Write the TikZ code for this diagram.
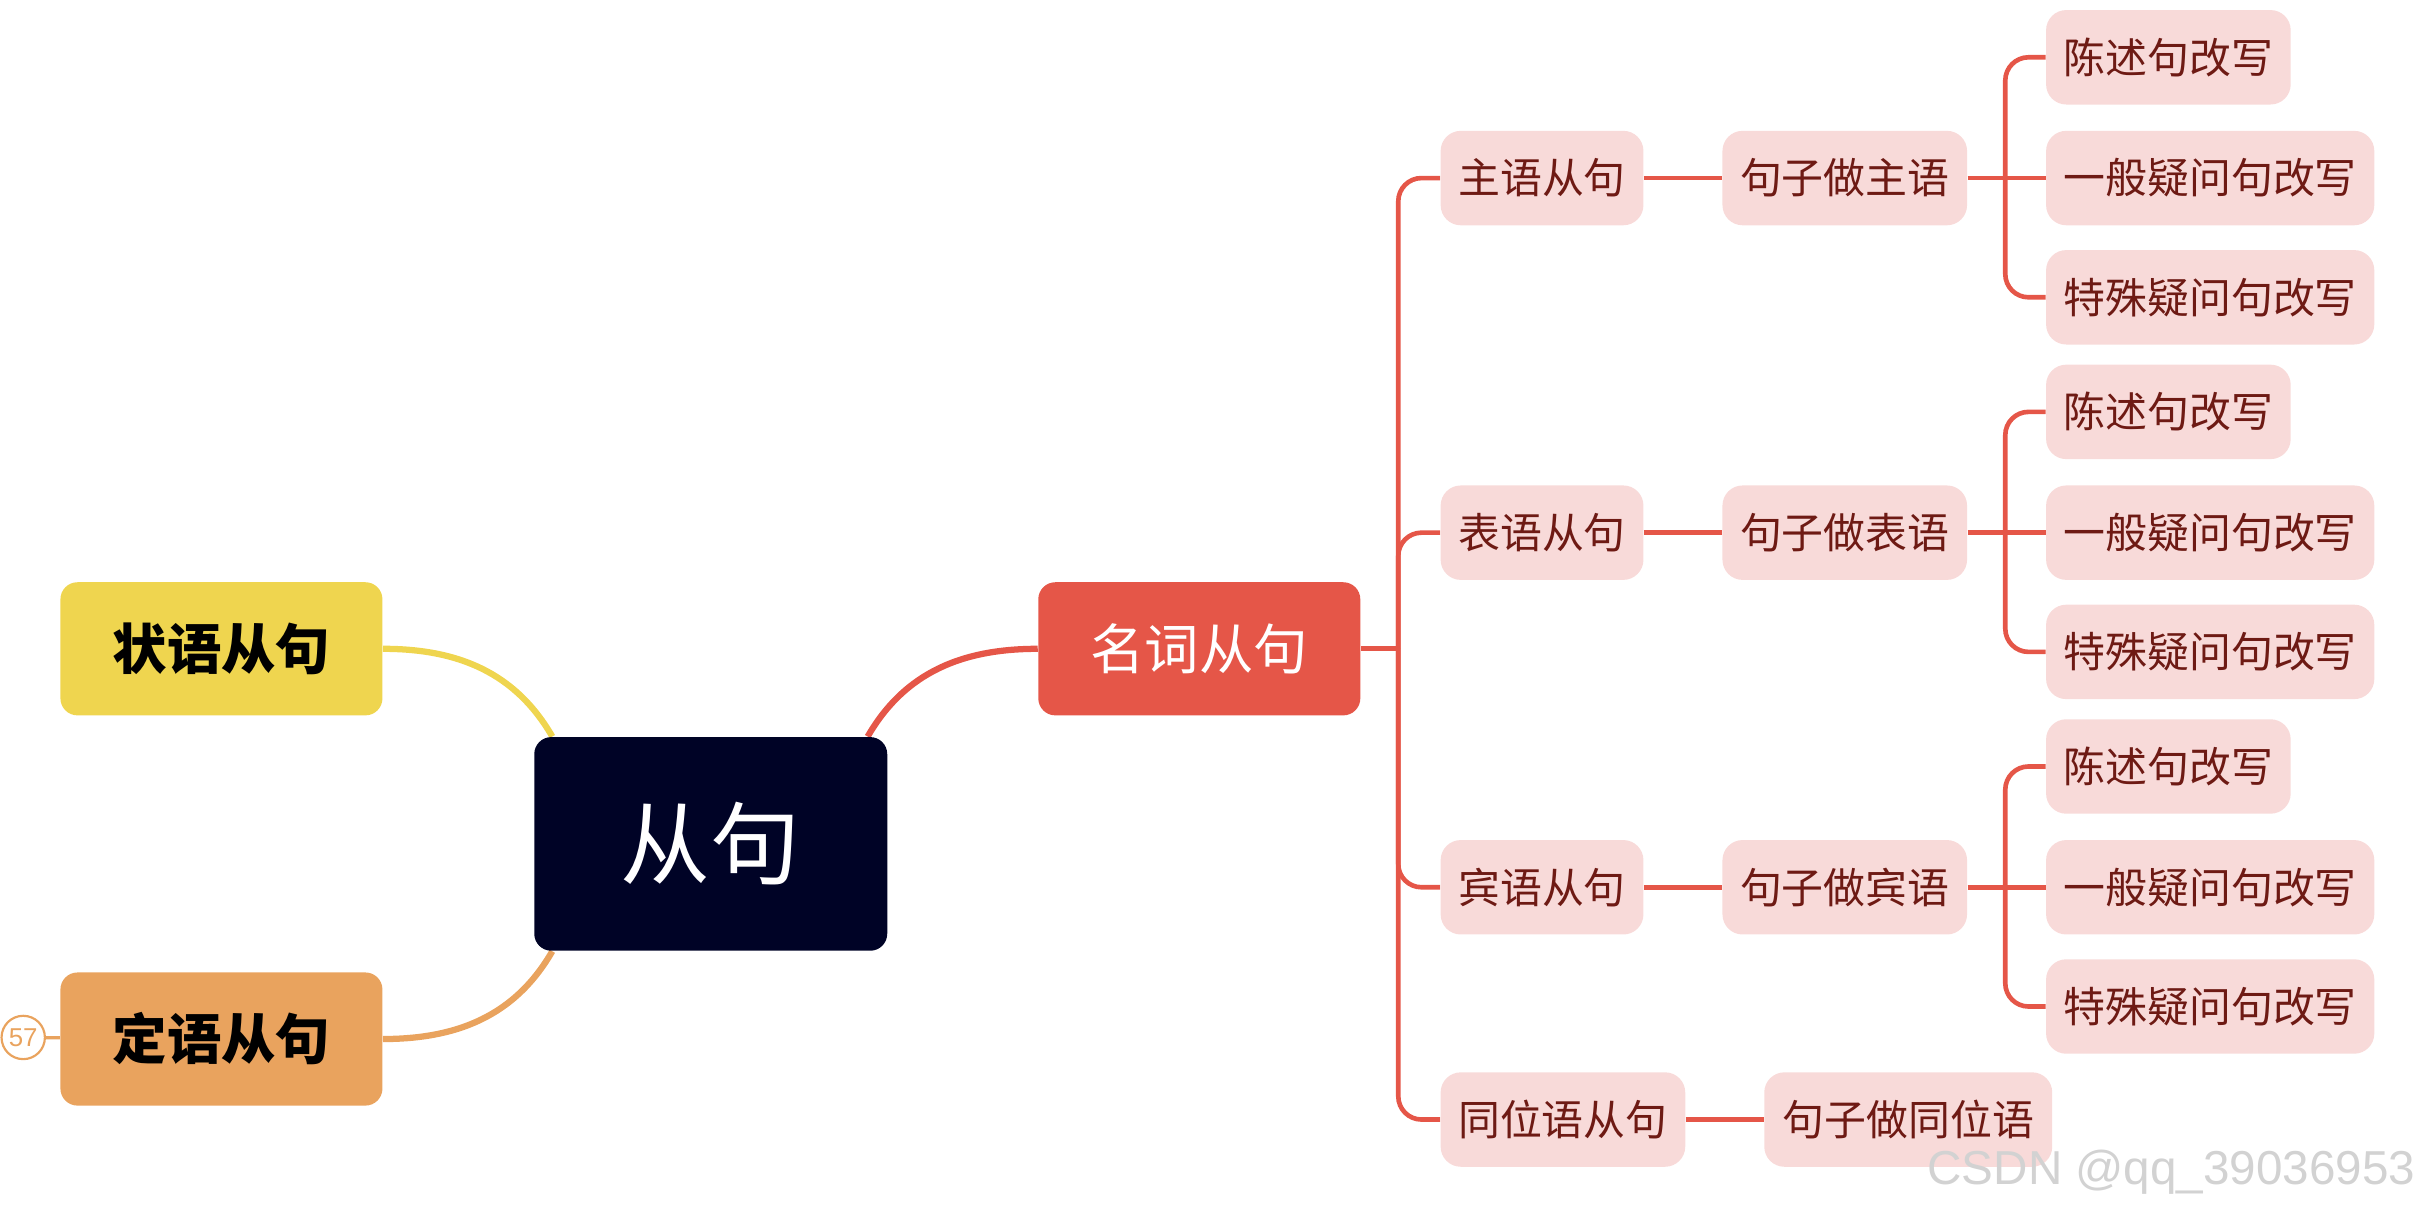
\documentclass[tikz,border=0pt]{standalone}
\usepackage{fontspec}
\newfontfamily\cjk{Noto Sans CJK SC}
\newfontfamily\arial{Liberation Sans}
\usetikzlibrary{backgrounds}
\definecolor{rootblue}{RGB}{0,3,38}
\definecolor{advyellow}{RGB}{239,213,79}
\definecolor{attrorange}{RGB}{233,163,94}
\definecolor{nounred}{RGB}{229,86,72}
\definecolor{leafpink}{RGB}{248,218,217}
\definecolor{leaftext}{RGB}{110,26,20}
\tikzset{
  box/.style={rounded corners=0.22cm, inner sep=0pt, font=\cjk},
  topic/.style={box, minimum width=4.16cm, minimum height=1.72cm, font=\cjk\bfseries\fontsize{20}{24}\selectfont},
  leaf/.style={box, anchor=west, fill=leafpink, text=leaftext, minimum height=1.22cm, rounded corners=0.26cm, font=\cjk\fontsize{15.4}{18}\selectfont},
  redline/.style={draw=nounred, line width=1.7pt},
}
\begin{document}
\begin{tikzpicture}[x=0.02cm, y=-0.02cm]
    \useasboundingbox (0,0) rectangle (1568,783);
    \node[box, fill=rootblue, text=white, minimum width=4.56cm, minimum height=2.76cm, font=\cjk\fontsize{33}{40}\selectfont] (root) at (459,545) {从句};
    \node[topic, fill=advyellow] (zhuang) at (143,419) {状语从句};
    \node[topic, fill=attrorange] (ding) at (143,671) {定语从句};
    \node[topic, fill=nounred, text=white, font=\cjk\fontsize{20}{24}\selectfont] (mingci) at (774.5,419) {名词从句};
    \node[circle, draw=attrorange, line width=0.8pt, text=attrorange, minimum size=0.56cm, inner sep=0pt, font=\arial\fontsize{9.5}{10}\selectfont] (fold) at (15,670) {57};
    % noun clauses
    \foreach \g/\word/\y in {zhu/主/115, biao/表/344, bin/宾/573} {
        \node[leaf, minimum width=2.62cm] (\g) at (930,\y) {\word 语从句};
        \node[leaf, minimum width=3.16cm] (\g-zuo) at (1112,\y) {句子做\word 语};
        \coordinate (\g-j) at (1295,\y);
        \node[leaf, minimum width=3.16cm] (\g-a) at (1321,\y-78) {陈述句改写};
        \node[leaf, minimum width=4.24cm] (\g-b) at (1321,\y) {一般疑问句改写};
        \node[leaf, minimum width=4.24cm] (\g-c) at (1321,\y+77) {特殊疑问句改写};
    }
    \node[leaf, minimum width=3.16cm] (tong) at (930,723) {同位语从句};
    \node[leaf, minimum width=3.72cm] (tong-zuo) at (1139,723) {句子做同位语};
    \coordinate (trunk) at (903,419);
    \node[anchor=east, text=gray!35, font=\arial\fontsize{17.5}{20}\selectfont] (mark) at (1566,757) {CSDN @qq\_39036953};
    \begin{scope}[on background layer]
        \draw[nounred, line width=2.3pt] ([xshift=-0.26cm]root.north east) to[out=60, in=180] (mingci.west);
        \draw[advyellow, line width=2.3pt] ([xshift=0.24cm]root.north west) to[out=120, in=0] (zhuang.east);
        \draw[attrorange, line width=2.3pt] ([xshift=0.24cm]root.south west) to[out=240, in=0] (ding.east);
        \draw[attrorange, line width=1.2pt] (fold) -- (ding);
        \draw[redline] (mingci.east) -- (trunk);
        \foreach \g in {zhu, biao, bin, tong} {
            \draw[redline, rounded corners=0.3cm] (trunk) |- (\g.west);
            \draw[redline] (\g.east) -- (\g-zuo.west);
        }
        \foreach \g in {zhu, biao, bin} {
            \draw[redline] (\g-zuo.east) -- (\g-b.west);
            \draw[redline, rounded corners=0.3cm] (\g-j) |- (\g-a.west);
            \draw[redline, rounded corners=0.3cm] (\g-j) |- (\g-c.west);
        }
    \end{scope}
\end{tikzpicture}
\end{document}
